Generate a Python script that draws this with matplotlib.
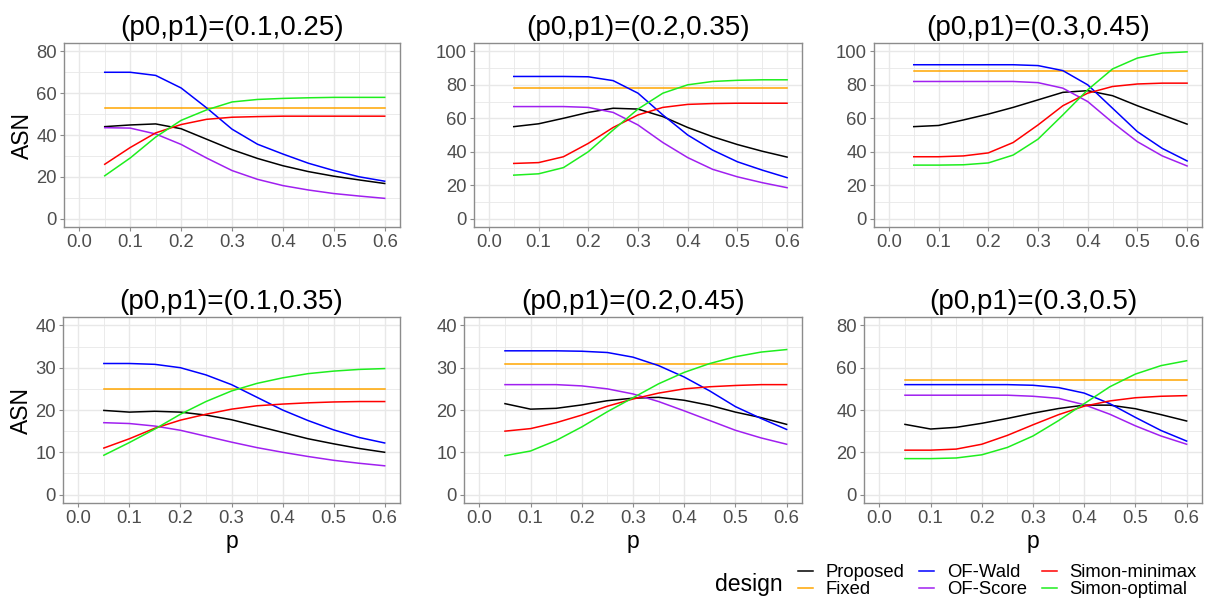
import matplotlib
matplotlib.use("Agg")
import matplotlib.pyplot as plt
from matplotlib.lines import Line2D
from matplotlib.ticker import MultipleLocator

plt.rcParams['font.family'] = ['Liberation Sans', 'DejaVu Sans']

p = [0.05, 0.10, 0.15, 0.20, 0.25, 0.30, 0.35, 0.40, 0.45, 0.50, 0.55, 0.60]

designs = ["Proposed", "Fixed", "OF-Wald", "OF-Score", "Simon-minimax", "Simon-optimal"]
colors = ["#000000", "#FFA500", "#0000FF", "#A020F0", "#FF0000", "#1EEE1E"]

titles = ["(p0,p1)=(0.1,0.25)", "(p0,p1)=(0.2,0.35)", "(p0,p1)=(0.3,0.45)",
          "(p0,p1)=(0.1,0.35)", "(p0,p1)=(0.2,0.45)", "(p0,p1)=(0.3,0.5)"]

# Panel 1: (0.1, 0.25)
p1_proposed = [44.0, 44.8, 45.3, 43.0, 38.0, 33.0, 28.8, 25.3, 22.5, 20.3, 18.5, 16.8]
p1_fixed    = [53.0] * 12
p1_ofwald   = [70.0, 70.0, 68.5, 62.5, 53.0, 42.8, 35.6, 30.9, 26.5, 23.0, 20.0, 17.9]
p1_ofscore  = [43.5, 43.3, 40.5, 35.5, 29.0, 23.0, 18.8, 15.8, 13.7, 12.0, 10.8, 9.7]
p1_minimax  = [26.0, 34.0, 41.0, 45.0, 47.5, 48.5, 48.8, 49.0, 49.0, 49.0, 49.0, 49.0]
p1_optimal  = [20.5, 29.0, 39.0, 47.0, 52.0, 55.8, 57.0, 57.5, 57.8, 58.0, 58.0, 58.0]

# Panel 2: (0.2, 0.35)
p2_proposed = [55.0, 56.7, 60.0, 63.5, 66.0, 65.5, 61.0, 54.5, 49.0, 44.3, 40.3, 36.8]
p2_fixed    = [78.0] * 12
p2_ofwald   = [85.0, 85.0, 85.0, 84.8, 82.5, 75.0, 62.0, 50.0, 41.0, 34.0, 29.0, 24.5]
p2_ofscore  = [67.0, 67.0, 67.0, 66.5, 63.5, 56.0, 45.5, 36.5, 29.5, 25.0, 21.5, 18.5]
p2_minimax  = [33.0, 33.5, 37.0, 45.0, 54.5, 62.0, 66.5, 68.3, 68.8, 69.0, 69.0, 69.0]
p2_optimal  = [26.0, 26.8, 30.5, 40.0, 53.0, 65.5, 75.0, 80.0, 82.0, 82.7, 83.0, 83.0]

# Panel 3: (0.3, 0.45)
p3_proposed = [55.0, 55.7, 59.0, 62.5, 66.5, 71.0, 75.5, 76.5, 73.5, 67.5, 62.0, 56.5]
p3_fixed    = [88.0] * 12
p3_ofwald   = [92.0, 92.0, 92.0, 92.0, 92.0, 91.5, 88.5, 80.0, 66.0, 52.0, 42.0, 34.5]
p3_ofscore  = [82.0, 82.0, 82.0, 82.0, 82.0, 81.3, 78.0, 70.0, 57.5, 46.0, 37.5, 31.5]
p3_minimax  = [37.0, 37.0, 37.5, 39.3, 45.5, 56.0, 67.5, 75.0, 79.0, 80.5, 81.0, 81.0]
p3_optimal  = [32.0, 32.0, 32.2, 33.3, 38.0, 47.5, 62.0, 77.0, 89.5, 96.0, 99.0, 99.7]

# Panel 4: (0.1, 0.35)
p4_proposed = [19.9, 19.5, 19.7, 19.5, 18.8, 17.7, 16.2, 14.7, 13.2, 12.0, 10.9, 10.0]
p4_fixed    = [25.0] * 12
p4_ofwald   = [31.0, 31.0, 30.8, 30.0, 28.3, 26.0, 23.0, 20.0, 17.5, 15.3, 13.5, 12.2]
p4_ofscore  = [17.0, 16.8, 16.2, 15.2, 13.8, 12.4, 11.1, 10.0, 9.0, 8.1, 7.4, 6.8]
p4_minimax  = [11.0, 13.2, 15.7, 17.6, 19.0, 20.2, 21.0, 21.4, 21.7, 21.9, 22.0, 22.0]
p4_optimal  = [9.3, 12.3, 15.5, 19.0, 22.0, 24.5, 26.3, 27.6, 28.6, 29.2, 29.6, 29.8]

# Panel 5: (0.2, 0.45)
p5_proposed = [21.5, 20.2, 20.4, 21.2, 22.2, 22.8, 23.0, 22.3, 21.1, 19.5, 18.2, 16.6]
p5_fixed    = [31.0] * 12
p5_ofwald   = [34.0, 34.0, 34.0, 33.9, 33.6, 32.5, 30.5, 27.8, 24.5, 20.8, 18.0, 15.4]
p5_ofscore  = [26.0, 26.0, 26.0, 25.7, 25.0, 23.8, 22.0, 19.8, 17.5, 15.2, 13.4, 11.9]
p5_minimax  = [15.0, 15.6, 17.0, 18.8, 20.9, 22.6, 24.0, 25.0, 25.5, 25.8, 26.0, 26.0]
p5_optimal  = [9.2, 10.3, 12.8, 16.0, 19.6, 22.9, 26.2, 28.9, 31.0, 32.6, 33.7, 34.3]

# Panel 6: (0.3, 0.5)
p6_proposed = [33.2, 31.0, 31.8, 33.7, 36.0, 38.5, 40.7, 42.3, 42.3, 40.6, 37.8, 34.8]
p6_fixed    = [54.0] * 12
p6_ofwald   = [52.0, 52.0, 52.0, 52.0, 52.0, 51.7, 50.6, 48.0, 43.0, 36.5, 30.3, 25.3]
p6_ofscore  = [47.0, 47.0, 47.0, 47.0, 47.0, 46.5, 45.5, 42.5, 38.0, 32.5, 27.7, 23.8]
p6_minimax  = [21.0, 21.0, 21.5, 23.8, 28.0, 33.0, 37.8, 41.8, 44.3, 45.8, 46.5, 46.8]
p6_optimal  = [17.0, 17.0, 17.3, 18.8, 22.3, 27.7, 35.0, 43.0, 51.0, 57.0, 61.0, 63.3]

panels = [
    [p1_proposed, p1_fixed, p1_ofwald, p1_ofscore, p1_minimax, p1_optimal],
    [p2_proposed, p2_fixed, p2_ofwald, p2_ofscore, p2_minimax, p2_optimal],
    [p3_proposed, p3_fixed, p3_ofwald, p3_ofscore, p3_minimax, p3_optimal],
    [p4_proposed, p4_fixed, p4_ofwald, p4_ofscore, p4_minimax, p4_optimal],
    [p5_proposed, p5_fixed, p5_ofwald, p5_ofscore, p5_minimax, p5_optimal],
    [p6_proposed, p6_fixed, p6_ofwald, p6_ofscore, p6_minimax, p6_optimal],
]

y_max = [80, 100, 100, 40, 40, 80]
y_step = [20, 20, 20, 10, 10, 20]
x_ticks = [0.0, 0.1, 0.2, 0.3, 0.4, 0.5, 0.6]

W, H = 1213, 607
fig = plt.figure(figsize=(W / 100, H / 100), dpi=100)

# axes boxes in pixels: left, right, top, bottom
boxes = [(64, 400, 43, 227), (474, 802, 43, 227), (874, 1202, 43, 227),
         (63, 400, 317, 503), (464, 802, 317, 503), (864, 1202, 317, 503)]

grid_col = "#E8E8E8"
border_col = "#8C8C8C"
tick_col = "#4D4D4D"

for i, (l, r, t, b) in enumerate(boxes):
    ax = fig.add_axes([l / W, 1 - b / H, (r - l) / W, (b - t) / H])
    for series, c in zip(panels[i], colors):
        ax.plot(p, series, color=c, lw=1.1, zorder=3)
    ym = y_max[i]
    ax.set_xlim(-0.03, 0.63)
    ax.set_xticks(x_ticks)
    ax.set_xticklabels([f"{v:.1f}" for v in x_ticks])
    ax.yaxis.set_major_locator(MultipleLocator(y_step[i]))
    ax.xaxis.set_minor_locator(MultipleLocator(0.05))
    ax.yaxis.set_minor_locator(MultipleLocator(y_step[i] / 2))
    ax.set_ylim(-0.05 * ym, 1.05 * ym)
    ax.grid(which="major", color=grid_col, lw=1.0, zorder=0)
    ax.grid(which="minor", color=grid_col, lw=0.6, zorder=0)
    ax.set_axisbelow(True)
    ax.tick_params(which="major", length=3, width=0.8, color=border_col,
                   labelsize=13.3, labelcolor=tick_col, pad=2)
    ax.tick_params(which="minor", length=0)
    for s in ax.spines.values():
        s.set_color(border_col)
        s.set_linewidth(1.0)
    ax.set_title(titles[i], fontsize=20, pad=6, color="#000000")
    if i % 3 == 0:
        ax.set_ylabel("ASN", fontsize=16.5, labelpad=2)
    if i >= 3:
        ax.set_xlabel("p", fontsize=16.5, labelpad=2)

handles = [Line2D([0], [0], color=c, lw=1.1) for c in colors]
fig.text(715 / W, 1 - 584 / H, "design", fontsize=16.6, ha="left", va="center")
fig.legend(handles, designs, ncol=3, loc="center left",
           bbox_to_anchor=(798 / W, 1 - 581 / H), frameon=False,
           fontsize=13.3, handlelength=0.8, handletextpad=0.7,
           columnspacing=0.8, labelspacing=0.0, borderpad=0, borderaxespad=0)

fig.savefig("out.png", dpi=100)
